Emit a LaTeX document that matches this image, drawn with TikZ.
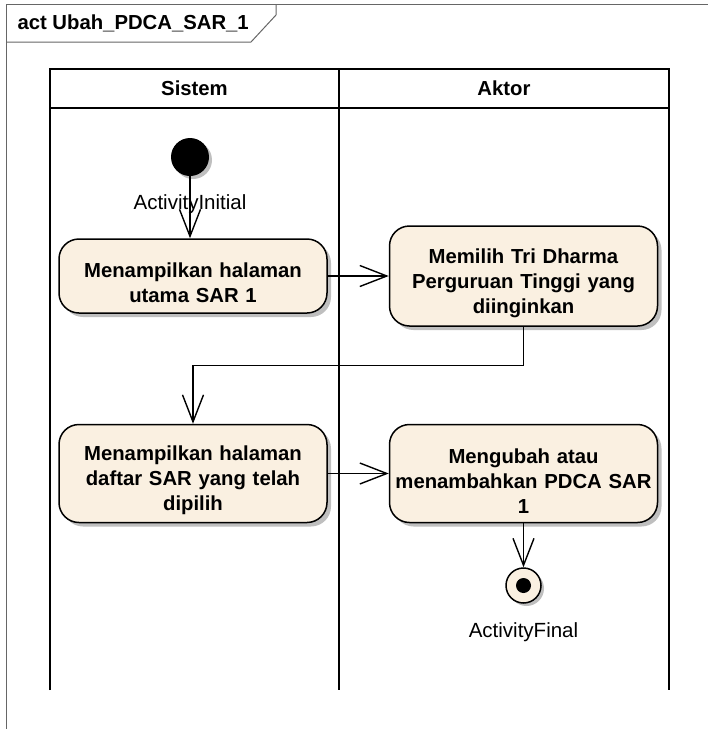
\documentclass[tikz,border=0pt]{standalone}
\usepackage{fontspec}
\setmainfont{Liberation Sans}
\usepackage{xcolor}
\usepackage{tikz}
\usetikzlibrary{arrows.meta, positioning, shadows}

\definecolor{actfill}{RGB}{250,240,225}

\begin{document}
\begin{tikzpicture}[
x=1pt, y=-1pt,
node distance=61pt,
action/.style={
rectangle,
rounded corners=20pt,
draw,
line width=1.5pt,
fill=actfill,
minimum width=268pt,
text width=262pt,
inner xsep=3pt,
align=center,
font=\bfseries\fontsize{20.3}{25}\selectfont,
execute at begin node={\rule{0pt}{29pt}},
drop shadow={shadow xshift=4pt, shadow yshift=-4pt, fill=black!25, opacity=1}
},
flow/.style={
-{Straight Barb[length=27pt, width=21pt]},
line width=1.4pt
},
lane/.style={
line width=1.8pt
},
head/.style={
font=\bfseries\fontsize{20.3}{24}\selectfont
},
lbl/.style={
font=\fontsize{20.5}{24}\selectfont,
inner sep=0pt
}
]

\useasboundingbox (0,0) rectangle (708,729);

% frame
\draw[black!60, line width=1pt] (6,729) -- (6,4) -- (708,4);
\draw[black!60, line width=1pt] (276,4) -- (276,15) -- (251,42) -- (6,42);
\node[anchor=west, head] (title) at (14,23) {act Ubah\_PDCA\_SAR\_1};

% swimlanes
\draw[lane] (50,690) -- (50,69) -- (669,69) -- (669,690);
\draw[lane] (339,69) -- (339,690);
\draw[lane] (50,108) -- (669,108);
\node[head] (sistem) at (194.5,88) {Sistem};
\node[head] (aktor) at (504,88) {Aktor};

\node[circle, fill=black, minimum size=38pt, inner sep=0pt,
drop shadow={shadow xshift=3pt, shadow yshift=-3pt, fill=black!25, opacity=1}] (init) at (190,157) {};
\node[lbl, anchor=base] (initlbl) at ([yshift=-33pt]init.south) {ActivityInitial};

\node[action, minimum height=74pt] (show1) at (193,276)
{Menampilkan halaman\\utama SAR 1};

\node[action, minimum height=100pt, right=of show1] (pick)
{Memilih Tri Dharma\\Perguruan Tinggi yang\\diinginkan};

\node[action, minimum height=98pt, below=110pt of show1] (show2)
{Menampilkan halaman\\daftar SAR yang telah\\dipilih};

\node[action, minimum height=98pt, right=of show2] (edit)
{Mengubah atau\\menambahkan PDCA SAR\\1};

\node[circle, draw, line width=1.5pt, fill=actfill, minimum size=35pt, inner sep=0pt,
drop shadow={shadow xshift=3pt, shadow yshift=-3pt, fill=black!25, opacity=1},
below=44pt of edit] (final) {};
\node[circle, fill=black, minimum size=15pt, inner sep=0pt] (finaldot) at (final) {};
\node[lbl, anchor=base] (finallbl) at ([yshift=-34pt]final.south) {ActivityFinal};

\draw[flow] (init.south) -- (init.south |- show1.north);
\draw[flow] (show1) -- (pick);
\draw[flow] (pick.south) -- ++(0,39) -| (show2.north);
\draw[flow] (show2) -- (edit);
\draw[flow] (edit) -- (final);

\end{tikzpicture}
\end{document}
